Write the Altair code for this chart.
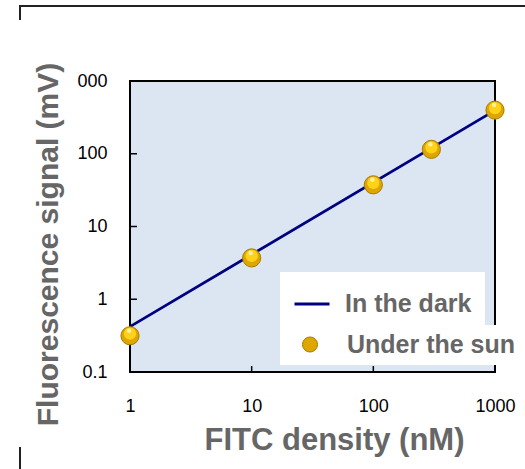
import altair as alt
import pandas as pd

# --- data ---
line_x = [1, 1000]
line_y = [0.42, 395]
point_x = [1, 10, 100, 300, 1000]
point_y = [0.315, 3.7, 37.4, 115, 398]
x_ticks = [1, 10, 100, 1000]
y_ticks = [0.1, 1, 10, 100, 1000]

line_df = pd.DataFrame({"x": line_x, "y": line_y, "series": ["In the dark"] * len(line_x)})
pt_df = pd.DataFrame({"x": point_x, "y": point_y, "series": ["Under the sun"] * len(point_x)})
xt_df = pd.DataFrame({"x": x_ticks})
yt_df = pd.DataFrame({"y": y_ticks})

FONT = "Liberation Sans"
GRAY = "#666666"
W, H = 365, 291

xscale = alt.Scale(type="log", domain=[1, 1000])
yscale = alt.Scale(type="log", domain=[0.1, 1000])

x_axis = alt.Axis(
    values=x_ticks, format="d", ticks=False, domain=False, grid=False,
    labelFont=FONT, labelFontSize=18, labelColor="black", labelPadding=25,
    labelBaseline="top", labelFlush=False,
    title="FITC density (nM)", titleFont=FONT, titleFontSize=31,
    titleFontWeight="bold", titleColor=GRAY, titleX=204, titleY=77,
    titleBaseline="alphabetic", titleAlign="center",
)
y_axis = alt.Axis(
    values=y_ticks, ticks=False, domain=False, grid=False,
    labelExpr="datum.value >= 1000 ? '000' : datum.value < 1 ? '0.1' : format(datum.value, 'd')",
    labelFont=FONT, labelFontSize=18, labelColor="black", labelPadding=23,
    labelFlush=False,
    title="Fluorescence signal (mV)", titleFont=FONT, titleFontSize=30,
    titleFontWeight="bold", titleColor=GRAY, titleX=-73, titleY=163,
    titleAngle=270, titleBaseline="alphabetic", titleAlign="center",
)

line = alt.Chart(line_df).mark_line(strokeWidth=2.8, clip=False).encode(
    x=alt.X("x:Q", scale=xscale, axis=x_axis),
    y=alt.Y("y:Q", scale=yscale, axis=y_axis),
    color=alt.Color(
        "series:N",
        scale=alt.Scale(domain=["In the dark"], range=["#000080"]),
        legend=alt.Legend(
            orient="none", legendX=150, legendY=191, title=None,
            fillColor="white", padding=13, symbolType="stroke",
            symbolSize=1225, symbolStrokeWidth=3, labelOffset=14,
            labelFont=FONT, labelFontSize=25, labelFontWeight="bold",
            labelColor=GRAY, labelLimit=400,
        ),
    ),
)

pts = alt.Chart(pt_df).mark_circle(size=330, opacity=1, clip=False,
                                    stroke="#A87C00", strokeWidth=1).encode(
    x=alt.X("x:Q", scale=xscale),
    y=alt.Y("y:Q", scale=yscale),
    fill=alt.Fill(
        "series:N",
        scale=alt.Scale(domain=["Under the sun"], range=["#DDA600"]),
        legend=alt.Legend(
            orient="none", legendX=150, legendY=244, title=None,
            fillColor="white", padding=7, symbolType="circle",
            symbolSize=227, symbolOffset=10.5, labelOffset=24.5,
            symbolStrokeColor="#A87C00", symbolStrokeWidth=1,
            labelFont=FONT, labelFontSize=25, labelFontWeight="bold",
            labelColor=GRAY, labelLimit=400,
        ),
    ),
)

hl = alt.Chart(pt_df).mark_circle(size=150, opacity=1, color="#FFD21A", yOffset=-2, clip=False).encode(
    x=alt.X("x:Q", scale=xscale),
    y=alt.Y("y:Q", scale=yscale),
)
hl2 = alt.Chart(pt_df).mark_circle(size=20, opacity=0.9, color="#FFF3B0", yOffset=-5, xOffset=-1, clip=False).encode(
    x=alt.X("x:Q", scale=xscale),
    y=alt.Y("y:Q", scale=yscale),
)

yt = alt.Chart(yt_df).mark_rule(color="black", strokeWidth=1.5).encode(
    y=alt.Y("y:Q", scale=yscale), x=alt.value(0), x2=alt.value(7)
)
xt = alt.Chart(xt_df).mark_rule(color="black", strokeWidth=1.5).encode(
    x=alt.X("x:Q", scale=xscale), y=alt.value(H), y2=alt.value(H - 6)
)

# frame decoration of the original figure
frame_top = alt.Chart(pd.DataFrame({"a": [0]})).mark_rule(color="#222222", strokeWidth=2).encode(
    x=alt.value(-110), x2=alt.value(400), y=alt.value(-75)
)
frame_l1 = alt.Chart(pd.DataFrame({"a": [0]})).mark_rule(color="#222222", strokeWidth=2).encode(
    x=alt.value(-110), y=alt.value(-76), y2=alt.value(-61)
)
frame_l2 = alt.Chart(pd.DataFrame({"a": [0]})).mark_rule(color="#222222", strokeWidth=2).encode(
    x=alt.value(-110), y=alt.value(366), y2=alt.value(390)
)

chart = alt.layer(xt, yt, line, pts, hl, hl2, frame_top, frame_l1, frame_l2).properties(
    width=W, height=H,
    autosize=alt.AutoSizeParams(type="none"),
    padding={"left": 130, "top": 81, "right": 30, "bottom": 97},
    background="white",
).configure_view(
    fill="#DCE6F2", stroke="black", strokeWidth=2
)

chart.save("out.html", embed_options={"renderer": "svg", "actions": False})
